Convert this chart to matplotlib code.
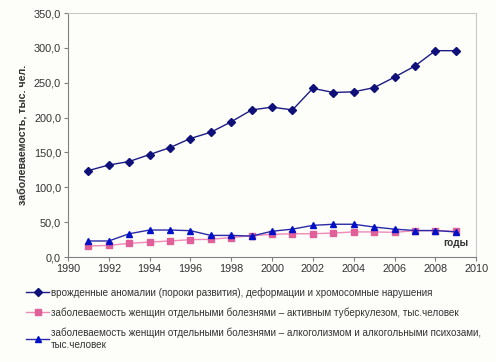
import matplotlib
matplotlib.use('Agg')
import matplotlib.pyplot as plt
from matplotlib.ticker import FuncFormatter

plt.rcParams['font.family'] = ['Liberation Sans', 'DejaVu Sans']

years = list(range(1991, 2010))
anomalies = [124, 132, 137, 147, 157, 170, 179, 194, 211, 215, 211, 242, 236, 237,
             243, 258, 274, 296, 296]
tuberculosis = [15.8, 16.7, 19.6, 21.5, 23, 24.9, 25.4, 28, 30.6, 32.5, 33.4, 33.4,
                34.4, 36, 36, 35.4, 37.8, 37.8, 37]
alcoholism = [23, 23, 33.4, 38.7, 38.7, 37.8, 31, 31, 30, 37, 40, 45.4, 47, 47,
              43, 40, 38, 38, 36]

labels = [
    'врожденные аномалии (пороки развития), деформации и хромосомные нарушения',
    'заболеваемость женщин отдельными болезнями – активным туберкулезом, тыс.человек',
    'заболеваемость женщин отдельными болезнями – алкоголизмом и алкогольными психозами,\nтыс.человек',
]

BG = '#fdfdf9'
fig = plt.figure(figsize=(4.96, 3.62), dpi=100, facecolor=BG)
ax = fig.add_axes([0.137, 0.290, 0.823, 0.674], facecolor=BG)

ax.plot(years, anomalies, '-', color='#1c1c84', linewidth=1.0, marker='D',
        markersize=4, markerfacecolor='#10107a', markeredgecolor='#10107a', label=labels[0])
ax.plot(years, tuberculosis, '-', color='#f08ab8', linewidth=1.0, marker='s',
        markersize=4, markerfacecolor='#e0609a', markeredgecolor='#e0609a', label=labels[1])
ax.plot(years, alcoholism, '-', color='#2a2aa8', linewidth=1.0, marker='^',
        markersize=4.5, markerfacecolor='#0010c8', markeredgecolor='#0010c8', label=labels[2])

ax.set_xlim(1990, 2010)
ax.set_ylim(0, 350)
ax.set_xticks(range(1990, 2011, 2))
ax.set_yticks(range(0, 351, 50))
ax.yaxis.set_major_formatter(FuncFormatter(lambda v, p: f'{v:.1f}'.replace('.', ',')))
ax.tick_params(axis='both', direction='out', length=3, width=0.8, color='#808080',
               labelsize=7.8, labelcolor='#333333', pad=2)

for sp in ('top', 'right'):
    ax.spines[sp].set_color('#c8c8c8')
for sp in ('left', 'bottom'):
    ax.spines[sp].set_color('#808080')
for sp in ax.spines.values():
    sp.set_linewidth(0.8)

ax.set_ylabel('заболеваемость, тыс. чел.', fontsize=7.7, fontweight='bold', color='#333333',
              labelpad=4)
ax.text(0.98, 0.035, 'годы', transform=ax.transAxes, ha='right', va='bottom',
        fontsize=7.2, fontweight='bold', color='#333333')

fig.legend(loc='upper left', bbox_to_anchor=(0.045, 0.218), frameon=False,
           fontsize=7.1, handlelength=2.3, handletextpad=0.2, labelspacing=1.0,
           borderaxespad=0, labelcolor='#333333')

fig.savefig('out.png', dpi=100, facecolor=BG)
